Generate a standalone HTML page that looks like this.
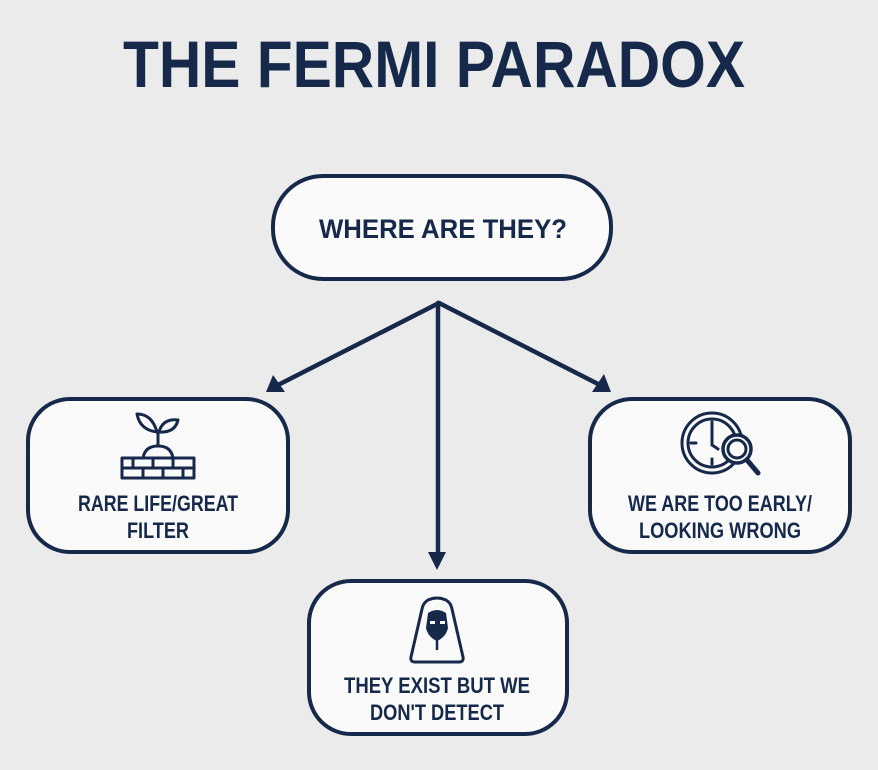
<!DOCTYPE html>
<html><head><meta charset="utf-8"><style>
html,body{margin:0;padding:0;background:#ebebeb;}
svg{display:block;}
text{font-family:"Liberation Sans",sans-serif;font-weight:bold;fill:#16294a;}
</style></head><body>
<svg width="878" height="770" viewBox="0 0 878 770" xmlns="http://www.w3.org/2000/svg">
<rect width="878" height="770" fill="#ebebeb"/>
<text x="434" y="87" text-anchor="middle" font-size="66" textLength="622" lengthAdjust="spacingAndGlyphs">THE FERMI PARADOX</text>

<g fill="#fafafa" stroke="#16294a" stroke-width="4">
<rect x="273" y="176" width="338" height="103" rx="50"/>
<rect x="28" y="399" width="260" height="153" rx="42"/>
<rect x="590" y="399" width="260" height="153" rx="42"/>
<rect x="309" y="581" width="258" height="153" rx="42"/>
</g>

<text x="443" y="238" text-anchor="middle" font-size="27" textLength="248" lengthAdjust="spacingAndGlyphs">WHERE ARE THEY?</text>
<text x="158" y="511" text-anchor="middle" font-size="22" textLength="160" lengthAdjust="spacingAndGlyphs">RARE LIFE/GREAT</text>
<text x="158" y="538" text-anchor="middle" font-size="22" textLength="62" lengthAdjust="spacingAndGlyphs">FILTER</text>
<text x="720" y="511" text-anchor="middle" font-size="22" textLength="184" lengthAdjust="spacingAndGlyphs">WE ARE TOO EARLY/</text>
<text x="720" y="538" text-anchor="middle" font-size="22" textLength="162" lengthAdjust="spacingAndGlyphs">LOOKING WRONG</text>
<text x="437" y="693" text-anchor="middle" font-size="22" textLength="186" lengthAdjust="spacingAndGlyphs">THEY EXIST BUT WE</text>
<text x="437" y="720" text-anchor="middle" font-size="22" textLength="134" lengthAdjust="spacingAndGlyphs">DON'T DETECT</text>

<g stroke="#16294a" stroke-width="4.5" fill="none" stroke-linecap="round">
<line x1="439" y1="303" x2="278" y2="385"/>
<line x1="439" y1="303" x2="600" y2="385"/>
<line x1="438" y1="303" x2="438" y2="556"/>
</g>
<g fill="#16294a">
<polygon points="266,392 273,375 285,392"/>
<polygon points="611,392 592,392 604,374"/>
<polygon points="437,570 428,552 446,552"/>
</g>

<g stroke="#16294a" stroke-width="3" fill="none" stroke-linejoin="round">
<rect x="122" y="458" width="72" height="20"/>
<line x1="122" y1="468" x2="194" y2="468"/>
<line x1="133" y1="458" x2="133" y2="468"/><line x1="153" y1="458" x2="153" y2="468"/><line x1="173" y1="458" x2="173" y2="468"/>
<line x1="143" y1="468" x2="143" y2="478"/><line x1="163" y1="468" x2="163" y2="478"/><line x1="183" y1="468" x2="183" y2="478"/>
<path d="M143,458 Q145,446 158,446 Q171,446 173,458"/>
<line x1="158" y1="446" x2="158" y2="430"/>
<path d="M157,432 Q140,430 137,414 Q152,414 157,432Z"/>
<path d="M159,432 Q163,418 178,420 Q175,433 159,432Z"/>
</g>

<g stroke="#16294a" stroke-width="3" fill="none" stroke-linecap="round">
<circle cx="712" cy="443" r="30"/>
<circle cx="712" cy="443" r="24"/>
<line x1="712" y1="422" x2="712" y2="427"/><line x1="712" y1="459" x2="712" y2="464"/>
<line x1="691" y1="443" x2="696" y2="443"/>
<line x1="712" y1="428" x2="712" y2="445"/><line x1="712" y1="445" x2="718" y2="449"/>
<circle cx="737" cy="449" r="14" fill="#fafafa" stroke-width="3.5"/>
<circle cx="737" cy="449" r="9"/>
<line x1="747" y1="460" x2="758" y2="473" stroke-width="5"/>
</g>

<g stroke="#16294a" stroke-width="3" fill="none" stroke-linejoin="round">
<path d="M428,600 Q437,596 446,600 Q451,603 452,609 L463,657 Q464,662 459,662 L415,662 Q410,662 411,657 L422,609 Q423,603 428,600Z"/>
</g>
<path d="M428,613 Q437,607 446,613 L448,628 Q446,637 437,641 Q428,637 426,628Z" fill="#16294a"/>
<line x1="437" y1="639" x2="437" y2="650" stroke="#16294a" stroke-width="2.5"/>
<rect x="430" y="621" width="5" height="3" fill="#fafafa"/><rect x="440" y="621" width="5" height="3" fill="#fafafa"/>
</svg>
</body></html>
